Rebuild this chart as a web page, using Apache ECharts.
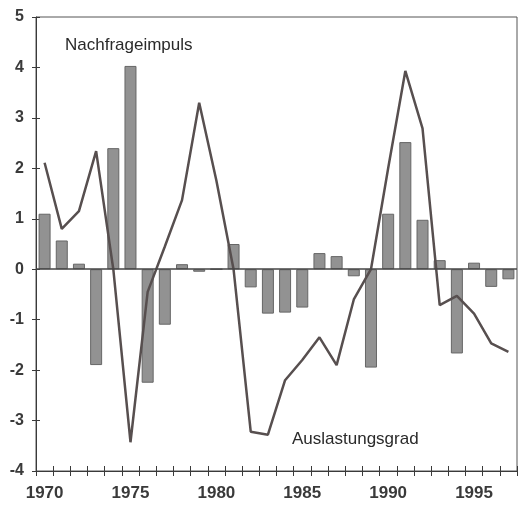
<!DOCTYPE html>
<html>
<head>
<meta charset="utf-8">
<script src="https://cdn.jsdelivr.net/npm/echarts@6/dist/echarts.min.js"></script>
<style>
  html, body { margin: 0; padding: 0; background: #fff; }
  #chart { width: 519px; height: 513px; }
</style>
</head>
<body>
<div id="chart"></div>
<script>
// Jahre (Kategorien)
const years = []
for (let y = 1970; y <= 1997; y++) years.push(String(y))

// Nachfrageimpuls (Balken)
const nachfrageimpuls = [1.1, 0.57, 0.11, -1.9, 2.4, 4.03, -2.25, -1.1, 0.1, -0.05,
  0, 0.5, -0.36, -0.88, -0.86, -0.76, 0.32, 0.26, -0.14, -1.95,
  1.1, 2.52, 0.98, 0.18, -1.67, 0.13, -0.35, -0.2]

// Auslastungsgrad (Linie)
const auslastungsgrad = [2.11, 0.8, 1.15, 2.34, 0.0, -3.43, -0.45, 0.45, 1.37, 3.3,
  1.76, 0.0, -3.22, -3.28, -2.2, -1.8, -1.35, -1.9, -0.6, 0.0,
  2.0, 3.93, 2.79, -0.71, -0.53, -0.88, -1.47, -1.64]

const yTicks = { min: -4, max: 5, interval: 1 }
const labelYears = ['1970', '1975', '1980', '1985', '1990', '1995']

const textColor = '#2a2a2a'
const axisColor = '#3a3a3a'
const font = 'Liberation Sans, Arial, sans-serif'

const chart = echarts.init(document.getElementById('chart'))

const option = {
  animation: false,
  backgroundColor: '#fff',
  grid: {
    left: 36,
    right: 2,
    top: 17,
    bottom: 42,
    show: true,
    borderColor: '#555',
    borderWidth: 1
  },
  xAxis: [
    {
      type: 'category',
      data: years,
      position: 'bottom',
      boundaryGap: true,
      axisLine: { onZero: false, lineStyle: { color: axisColor, width: 1 } },
      axisTick: { show: true, interval: 0, length: 5, lineStyle: { color: axisColor } },
      axisLabel: {
        interval: 0,
        formatter: (v) => (labelYears.includes(v) ? v : ''),
        fontSize: 17,
        fontWeight: 'bold',
        fontFamily: font,
        color: '#3a3a3a',
        margin: 14
      },
      splitLine: { show: false }
    },
    {
      // innere Hälfte der Teilstriche
      type: 'category',
      data: years,
      position: 'bottom',
      boundaryGap: true,
      axisLine: { show: false, onZero: false },
      axisTick: { show: true, inside: true, interval: 0, length: 5, lineStyle: { color: axisColor } },
      axisLabel: { show: false },
      splitLine: { show: false }
    }
  ],
  yAxis: [
    {
      type: 'value',
      min: yTicks.min,
      max: yTicks.max,
      interval: yTicks.interval,
      axisLine: { show: true, lineStyle: { color: axisColor, width: 1 } },
      axisTick: { show: true, length: 4, lineStyle: { color: axisColor } },
      axisLabel: {
        fontSize: 16,
        fontWeight: 'bold',
        fontFamily: font,
        color: '#3a3a3a',
        margin: 12
      },
      splitLine: { show: false }
    },
    {
      type: 'value',
      position: 'left',
      min: yTicks.min,
      max: yTicks.max,
      interval: yTicks.interval,
      axisLine: { show: false },
      axisTick: { show: true, inside: true, length: 4, lineStyle: { color: axisColor } },
      axisLabel: { show: false },
      splitLine: { show: false }
    }
  ],
  series: [
    {
      name: 'Nachfrageimpuls',
      type: 'bar',
      data: nachfrageimpuls,
      barWidth: 12,
      itemStyle: {
        color: '#929292',
        borderColor: '#666',
        borderWidth: 1
      },
      markLine: {
        silent: true,
        symbol: 'none',
        label: { show: false },
        lineStyle: { color: '#444', width: 1.5, type: 'solid' },
        data: [{ yAxis: 0 }]
      }
    },
    {
      name: 'Auslastungsgrad',
      type: 'line',
      data: auslastungsgrad,
      showSymbol: false,
      symbol: 'none',
      lineStyle: { color: '#574f4f', width: 2.5 },
      z: 3
    }
  ],
  graphic: [
    {
      type: 'text',
      left: 65,
      top: 37,
      style: { text: 'Nachfrageimpuls', fontSize: 17, fontFamily: font, fill: textColor }
    },
    {
      type: 'text',
      left: 292,
      top: 431,
      style: { text: 'Auslastungsgrad', fontSize: 17, fontFamily: font, fill: textColor }
    }
  ]
}

chart.setOption(option)
</script>
</body>
</html>
